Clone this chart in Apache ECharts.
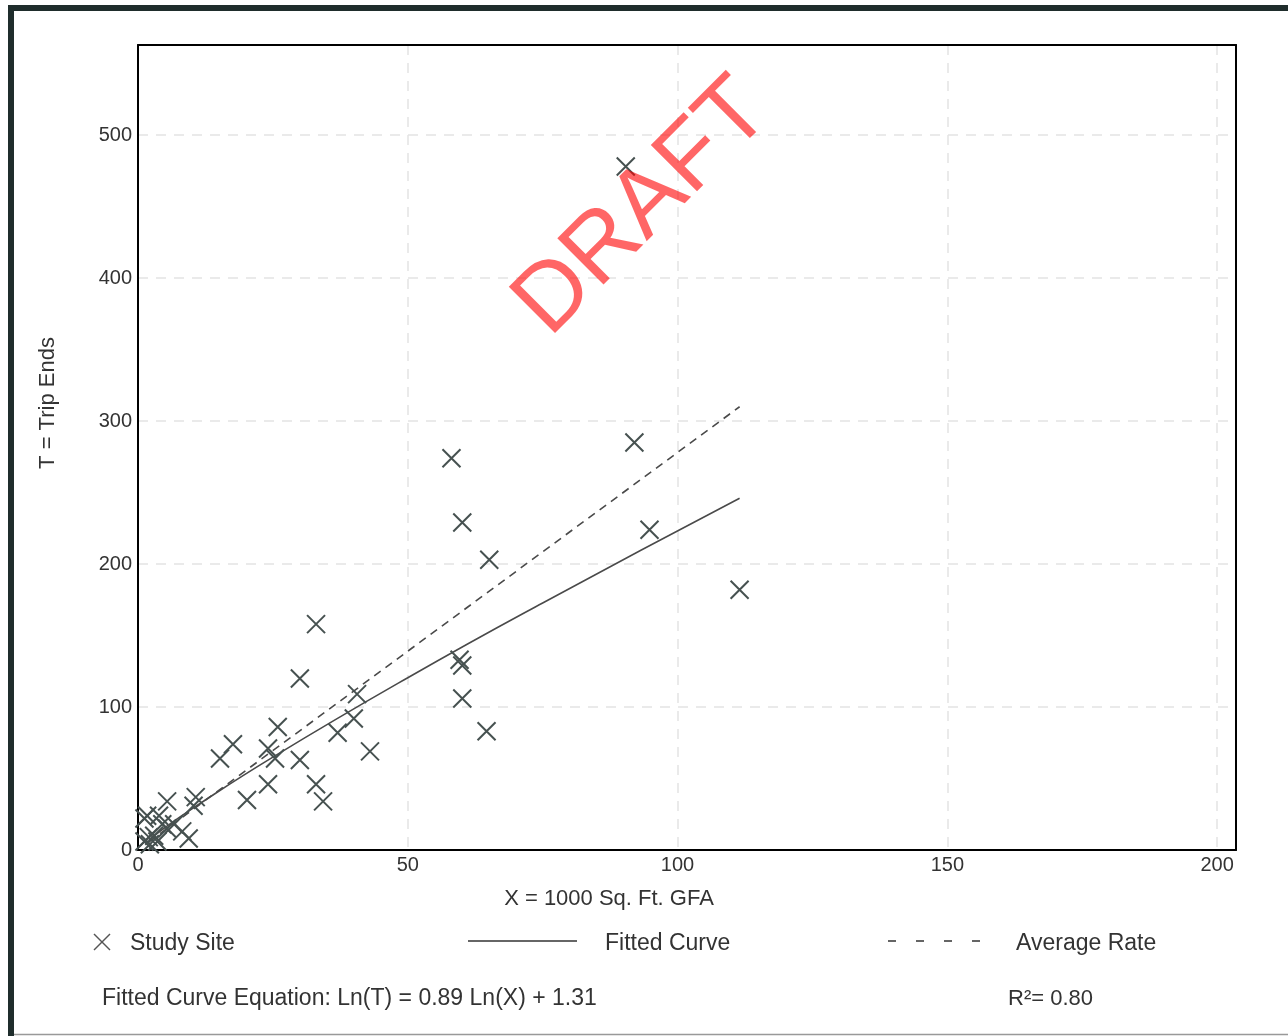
<!DOCTYPE html>
<html>
<head>
<meta charset="utf-8">
<script src="https://cdn.jsdelivr.net/npm/echarts@6/dist/echarts.min.js"></script>
<style>
html,body{margin:0;padding:0;background:#fff;}
#chart{width:1288px;height:1036px;}
</style>
</head>
<body>
<div id="chart"></div>
<script>
// ---- Data ----
const studyX = [90.4, 92.0, 58.1, 60.1, 94.8, 65.1, 111.5, 33.0, 59.6, 60.1, 60.1, 64.6,
  30.0, 40.6, 40.0, 37.0, 43.0, 25.9, 24.1, 25.4, 30.0, 17.6, 15.2, 24.1, 33.0, 34.3,
  20.2, 10.7, 10.3, 5.4, 1.7, 3.9, 6.7, 8.2, 9.4, 1.2, 2.0, 3.0, 3.6, 2.2, 1.2, 5.4, 4.5];
const studyT = [478, 285, 274, 229, 224, 203, 182, 158, 133, 129, 106, 83,
  120, 109, 92, 82, 69, 86, 71, 64, 63, 74, 64, 46, 46, 34,
  35, 37, 31, 34, 24, 24, 18, 13, 8, 22, 9, 10, 6, 4, 6, 15, 18];
const fitX = [2, 5, 10, 25, 50, 75, 111.5];
const fitT = [6.9, 15.6, 28.8, 65.0, 120.5, 172.8, 246];
const avgX = [2, 111.5];
const avgT = [5.6, 310];
const xTickLabels = ['0', '50', '100', '150', '200'];
const yTickLabels = ['0', '100', '200', '300', '400', '500'];

const FONT = '"Liberation Sans", Arial, Helvetica, sans-serif';
const MARK = '#465150';
const chart = echarts.init(document.getElementById('chart'), null, {renderer: 'canvas'});

const crossPath = 'path://M0,0L10,10M10,0L0,10';
const splitStyle = {color: '#e3e3e3', width: 1.5, type: [10, 8]};
const frameLine = {show: true, lineStyle: {color: '#000', width: 2}};

chart.setOption({
  animation: false,
  backgroundColor: '#fff',
  grid: {left: 138, right: 52, top: 45, bottom: 186},
  xAxis: [{
    type: 'value', min: 0, max: 203.5, interval: 50,
    axisLine: Object.assign({onZero: false}, frameLine), axisTick: {show: false},
    axisLabel: {fontFamily: FONT, fontSize: 20, color: '#333', margin: 5, showMaxLabel: false,
      formatter: v => xTickLabels.includes(String(v)) ? String(v) : ''},
    splitLine: {show: true, showMinLine: false, showMaxLine: false, lineStyle: splitStyle}
  }, {
    type: 'value', position: 'top', min: 0, max: 203.5, interval: 50,
    axisLine: Object.assign({onZero: false}, frameLine), axisTick: {show: false},
    axisLabel: {show: false}, splitLine: {show: false}
  }],
  yAxis: [{
    type: 'value', min: 0, max: 563, interval: 100,
    axisLine: Object.assign({onZero: false}, frameLine), axisTick: {show: false},
    axisLabel: {fontFamily: FONT, fontSize: 20, color: '#333', margin: 6, showMaxLabel: false,
      formatter: v => yTickLabels.includes(String(v)) ? String(v) : ''},
    splitLine: {show: true, showMinLine: false, showMaxLine: false, lineStyle: splitStyle}
  }, {
    type: 'value', position: 'right', min: 0, max: 563, interval: 100,
    axisLine: Object.assign({onZero: false}, frameLine), axisTick: {show: false},
    axisLabel: {show: false}, splitLine: {show: false}
  }],
  series: [
    {
      name: 'Fitted Curve', type: 'line', data: fitX.map((x, i) => [x, fitT[i]]),
      showSymbol: false, smooth: true, lineStyle: {color: '#4a4a4a', width: 1.6}, z: 3
    },
    {
      name: 'Average Rate', type: 'line', data: avgX.map((x, i) => [x, avgT[i]]),
      showSymbol: false, lineStyle: {color: '#4a4a4a', width: 1.6, type: [8, 6]}, z: 3
    },
    {
      name: 'Study Site', type: 'scatter', data: studyX.map((x, i) => [x, studyT[i]]),
      symbol: crossPath, symbolSize: 18,
      itemStyle: {color: 'transparent', borderColor: MARK, borderWidth: 2, opacity: 1}, z: 4
    }
  ],
  graphic: [
    // outer frame
    {type: 'rect', shape: {x: 8, y: 5, width: 1280, height: 6}, style: {fill: '#1f2d2c'}, z: 100},
    {type: 'rect', shape: {x: 8, y: 5, width: 6, height: 1031}, style: {fill: '#1f2d2c'}, z: 100},
    {type: 'line', shape: {x1: 14, y1: 1034.5, x2: 1288, y2: 1034.5}, style: {stroke: '#999', lineWidth: 1.5}, z: 100},
    // axis titles
    {type: 'text', x: 609, y: 899, style: {text: 'X = 1000 Sq. Ft. GFA', font: '22px ' + FONT, fill: '#333', textAlign: 'center', textVerticalAlign: 'middle'}},
    {type: 'text', x: 48, y: 403, rotation: Math.PI / 2, style: {text: 'T = Trip Ends', font: '22px ' + FONT, fill: '#333', textAlign: 'center', textVerticalAlign: 'middle'}},
    // watermark
    {type: 'text', x: 643, y: 208, rotation: Math.PI / 4, z: 200,
      style: {text: 'DRAFT', font: '95px ' + FONT, fill: 'rgba(255,0,0,0.6)', textAlign: 'center', textVerticalAlign: 'middle'}},
    // legend
    {type: 'line', shape: {x1: 94, y1: 934, x2: 110, y2: 950}, style: {stroke: '#555', lineWidth: 1.5}},
    {type: 'line', shape: {x1: 110, y1: 934, x2: 94, y2: 950}, style: {stroke: '#555', lineWidth: 1.5}},
    {type: 'text', x: 130, y: 944, style: {text: 'Study Site', font: '23px ' + FONT, fill: '#333', textVerticalAlign: 'middle'}},
    {type: 'line', shape: {x1: 468, y1: 941, x2: 577, y2: 941}, style: {stroke: '#333', lineWidth: 1.5}},
    {type: 'text', x: 605, y: 944, style: {text: 'Fitted Curve', font: '23px ' + FONT, fill: '#333', textVerticalAlign: 'middle'}},
    {type: 'line', shape: {x1: 888, y1: 941, x2: 980, y2: 941}, style: {stroke: '#333', lineWidth: 1.5, lineDash: [8, 20]}},
    {type: 'text', x: 1016, y: 944, style: {text: 'Average Rate', font: '23px ' + FONT, fill: '#333', textVerticalAlign: 'middle'}},
    {type: 'text', x: 102, y: 999, style: {text: 'Fitted Curve Equation: Ln(T) = 0.89 Ln(X) + 1.31', font: '23px ' + FONT, fill: '#333', textVerticalAlign: 'middle'}},
    {type: 'text', x: 1008, y: 999, style: {text: 'R²= 0.80', font: '22px ' + FONT, fill: '#333', textVerticalAlign: 'middle'}}
  ]
});
</script>
</body>
</html>
